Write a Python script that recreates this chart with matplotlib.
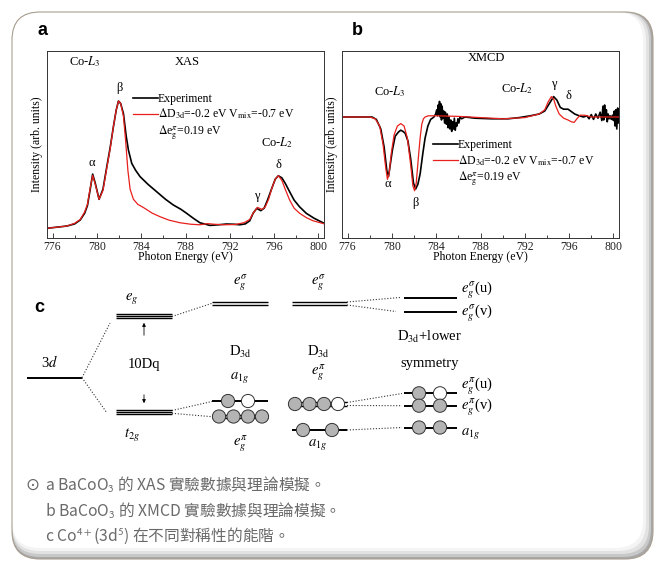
import numpy as np
import matplotlib
matplotlib.use('Agg')
import matplotlib.pyplot as plt
from matplotlib.patches import FancyBboxPatch, Circle
from matplotlib.ticker import MultipleLocator

plt.rcParams['font.family'] = ['Liberation Serif', 'DejaVu Serif']
plt.rcParams['mathtext.fontset'] = 'stix'

# panel a: XAS
xas_exp_e = [775.5, 776.5, 777.3, 778.0, 778.5, 778.9, 779.15, 779.4, 779.62, 779.85, 780.2, 780.55,
             780.9, 781.2, 781.5, 781.75, 781.95, 782.15, 782.4, 782.65, 782.85, 783.15, 783.5, 783.9,
             784.6, 785.4, 786.2, 786.9, 787.6, 788.1, 788.7, 789.3, 790.2, 791.0, 791.7, 792.4, 792.9,
             793.4, 793.8, 794.1, 794.43, 794.8, 795.1, 795.4, 795.8, 796.1, 796.38, 796.7, 797.0,
             797.4, 797.8, 798.3, 798.9, 799.6, 800.5]
xas_exp_i = [-0.01, 0.0, 0.008, 0.025, 0.056, 0.11, 0.17, 0.3, 0.42, 0.35, 0.22, 0.3,
             0.48, 0.63, 0.8, 0.93, 1.0, 0.98, 0.9, 0.72, 0.61, 0.505, 0.45, 0.40,
             0.34, 0.28, 0.22, 0.175, 0.14, 0.109, 0.07, 0.034, 0.013, 0.018, 0.024, 0.022, 0.018,
             0.025, 0.05, 0.109, 0.148, 0.13, 0.15, 0.214, 0.31, 0.38, 0.407, 0.39, 0.347,
             0.28, 0.214, 0.16, 0.109, 0.07, 0.03]
xas_th_e = [775.5, 776.5, 777.3, 778.0, 778.5, 778.9, 779.15, 779.4, 779.62, 779.85, 780.2, 780.55,
            780.9, 781.2, 781.5, 781.75, 781.95, 782.15, 782.4, 782.6, 782.8, 783.0, 783.3, 783.7,
            784.2, 785.0, 785.7, 786.5, 787.5, 788.5, 789.3, 790.0, 790.6, 791.5, 792.5, 793.3,
            793.8, 794.1, 794.5, 794.9, 795.2, 795.5, 795.8, 796.1, 796.38, 796.7, 797.0, 797.4,
            797.8, 798.3, 798.9, 799.5, 800.5]
xas_th_i = [-0.01, 0.0, 0.008, 0.03, 0.06, 0.12, 0.18, 0.31, 0.41, 0.34, 0.22, 0.29,
            0.47, 0.62, 0.8, 0.93, 1.0, 0.98, 0.88, 0.68, 0.45, 0.3, 0.22, 0.18,
            0.155, 0.11, 0.082, 0.055, 0.034, 0.022, 0.018, 0.027, 0.022, 0.018, 0.02, 0.035,
            0.06, 0.11, 0.156, 0.14, 0.16, 0.22, 0.31, 0.38, 0.407, 0.37, 0.3, 0.214,
            0.15, 0.109, 0.075, 0.05, 0.026]

# panel b: XMCD
xmcd_exp_e = [775.5, 777.0, 778.2, 778.6, 779.0, 779.3, 779.55, 779.7, 779.85, 780.05, 780.3, 780.6,
              780.8, 781.0, 781.2, 781.45, 781.7, 781.95, 782.15, 782.35, 782.55, 782.8, 783.0, 783.25,
              783.5, 783.8, 783.95, 784.05, 784.12, 784.18, 784.24, 784.3, 784.36, 784.42, 784.48,
              784.54, 784.6, 784.68, 784.76, 784.84, 784.92, 785.0, 785.08, 785.16, 785.24, 785.32,
              785.4, 785.48, 785.56, 785.64, 785.72, 785.8, 785.88, 785.96, 786.05, 786.15, 786.3,
              786.6, 787.5, 789.0, 790.5, 791.5, 792.5, 793.3, 793.8, 794.2, 794.6, 794.9, 795.2,
              795.5, 795.9, 796.2, 796.5, 796.9, 797.3, 797.6, 797.8, 798.0, 798.2, 798.4, 798.6,
              798.8, 798.95, 799.05, 799.12, 799.2, 799.28, 799.36, 799.44, 799.52, 799.6, 799.7,
              799.8, 799.9, 800.0, 800.08, 800.15, 800.22, 800.3, 800.38, 800.45, 800.5]
xmcd_exp_i = [0.0, 0.0, 0.0, -0.04, -0.2, -0.5, -0.9, -0.99, -0.8, -0.55, -0.32, -0.25,
              -0.22, -0.24, -0.27, -0.4, -0.7, -1.1, -1.2, -1.12, -0.95, -0.6, -0.35, -0.15,
              -0.04, 0.0, 0.05, 0.12, 0.02, 0.2, 0.05, 0.26, 0.0, 0.22, -0.05,
              0.18, -0.02, 0.1, -0.1, 0.08, -0.12, 0.05, -0.18, 0.0, -0.2, -0.05,
              -0.24, -0.08, -0.2, -0.02, -0.22, -0.1, -0.15, -0.03, -0.1, 0.0, -0.03,
              0.0, -0.02, -0.03, -0.03, -0.01, 0.02, 0.05, 0.1, 0.22, 0.34, 0.28, 0.16,
              0.13, 0.13, 0.09, 0.05, 0.02, 0.0, 0.02, -0.03, 0.04, -0.04, 0.05, -0.02,
              0.08, -0.06, 0.18, -0.05, 0.2, 0.0, 0.12, -0.08, 0.05, -0.03, 0.02,
              -0.04, 0.03, -0.06, 0.1, -0.15, 0.12, -0.2, 0.15, -0.1, 0.05]
xmcd_th_e = [775.5, 778.0, 778.5, 778.9, 779.2, 779.45, 779.6, 779.75, 779.95, 780.2, 780.5, 780.8,
             781.1, 781.4, 781.7, 781.9, 782.05, 782.2, 782.4, 782.55, 782.7, 782.85, 783.0, 783.3,
             784.0, 786.0, 788.0, 790.0, 792.0, 793.3, 793.8, 794.1, 794.4, 794.6, 794.8, 795.1,
             795.5, 795.9, 796.2, 796.45, 796.7, 797.0, 797.4, 798.0, 800.5]
xmcd_th_i = [0.0, 0.0, -0.03, -0.15, -0.45, -0.85, -1.04, -0.95, -0.6, -0.3, -0.15, -0.11,
             -0.15, -0.35, -0.8, -1.15, -1.23, -1.1, -0.66, -0.35, -0.12, -0.03, 0.0, 0.02,
             0.02, 0.01, -0.01, -0.03, -0.01, 0.05, 0.12, 0.25, 0.34, 0.3, 0.18, 0.05,
             -0.02, -0.05, -0.08, -0.09, -0.03, 0.03, 0.03, 0.0, 0.0]

# panel c: levels (x0, x1, y, number of lines) in pixel units
levels = [(27, 82, 377.7, 1), (116, 172, 316, 3), (116, 172, 412, 3),
          (212, 268, 303.5, 2), (212, 268, 401, 1), (212, 268, 416.5, 2),
          (292, 347, 303.5, 2), (292, 347, 404, 2), (292, 347, 430, 1),
          (404, 457, 298.3, 1), (404, 457, 312.3, 1), (404, 457, 393.3, 1),
          (404, 457, 405.7, 1), (404, 457, 427.5, 1)]
electrons = [(228, 401, 1), (248, 401, 0),
             (219, 416.5, 1), (233.5, 416.5, 1), (248, 416.5, 1), (262, 416.5, 1),
             (295, 404, 1), (309.5, 404, 1), (324, 404, 1), (338, 404, 0),
             (303, 430, 1), (332, 430, 1),
             (419, 393.3, 1), (440, 393.3, 0),
             (419, 405.7, 1), (440, 405.7, 1),
             (419, 427.5, 1), (440, 427.5, 1)]
links = [((82, 377.7), (110, 323)), ((82, 377.7), (107, 413)),
         ((172, 316.5), (212, 303.3)), ((172, 410.5), (212, 401.5)), ((172, 413.3), (212, 416.7)),
         ((347, 302), (400, 297.5)), ((347, 305), (396, 311.5)),
         ((347, 402.5), (402, 393.5)), ((347, 405.5), (402, 405.7)), ((347, 430), (402, 427.5))]
level_labels = [(50, 362, '3$d$', 'center'), (132, 298, '$e_g$', 'center'), (132, 434, '$t_{2g}$', 'center'),
                (144, 364, '10Dq', 'center'),
                (240, 283, r'$e_g^{\sigma}$', 'center'), (240, 352, r'D$_{\mathrm{3d}}$', 'center'),
                (240, 377, '$a_{1g}$', 'center'), (240, 444, r'$e_g^{\pi}$', 'center'),
                (318, 283, r'$e_g^{\sigma}$', 'center'), (318, 352, r'D$_{\mathrm{3d}}$', 'center'),
                (318, 373, r'$e_g^{\pi}$', 'center'), (318, 444, '$a_{1g}$', 'center'),
                (430, 337, r'D$_{\mathrm{3d}}$+lower', 'center'), (430, 363, 'symmetry', 'center'),
                (461, 290, r'$e_g^{\sigma}$(u)', 'left'), (461, 313, r'$e_g^{\sigma}$(v)', 'left'),
                (461, 386, r'$e_g^{\pi}$(u)', 'left'), (461, 407, r'$e_g^{\pi}$(v)', 'left'),
                (461, 433, '$a_{1g}$', 'left')]

captions = ['a BaCoO$_\\mathsf{3}$ 的 XAS 實驗數據與理論模擬。',
            'b BaCoO$_\\mathsf{3}$ 的 XMCD 實驗數據與理論模擬。',
            'c Co$^\\mathsf{4+}$(3d$^\\mathsf{5}$) 在不同對稱性的能階。']

fig = plt.figure(figsize=(6.6, 5.61), dpi=100)
bg = fig.add_axes([0, 0, 1, 1], zorder=0)
bg.set_xlim(0, 660)
bg.set_ylim(561, 0)
bg.axis('off')


def rbox(x0, y0, x1, y1, r=28, **kw):
    bg.add_patch(FancyBboxPatch((x0 + r, y0 + r), x1 - x0 - 2 * r, y1 - y0 - 2 * r,
                                boxstyle='round,pad=%g' % r, **kw))


# card with soft inner shadow on right/bottom
rbox(12, 12, 653, 559, fc='#a8a8a8', ec='none')
rbox(12, 12, 651, 557, fc='#c8c8c8', ec='none')
rbox(12, 12, 649, 554, fc='#e2e2e2', ec='none')
rbox(12, 12, 646, 551, fc='#f4f4f4', ec='none')
rbox(12, 12, 643, 548, fc='white', ec='none')
rbox(12, 12, 653, 559, fc='none', ec='#a89e90', lw=0.8)


def setup(ax):
    ax.set_xlim(775.5, 800.5)
    ax.xaxis.set_major_locator(MultipleLocator(4))
    ax.xaxis.set_minor_locator(MultipleLocator(2))
    ax.tick_params(which='both', direction='in', top=False, right=False, labelsize=8.5, pad=2,
                   width=0.6, colors='#222')
    ax.tick_params(which='major', length=3.5)
    ax.tick_params(which='minor', length=2)
    ax.set_yticks([])
    ax.set_xlabel('Photon Energy (eV)', fontsize=8.5, labelpad=-1)
    ax.set_ylabel('Intensity (arb. units)', fontsize=8.5, labelpad=3)
    for s in ax.spines.values():
        s.set_linewidth(0.7)
        s.set_color('#333')


ax_a = fig.add_axes([47 / 660, 1 - 238 / 561, 277 / 660, 187 / 561], zorder=2)
ax_a.plot(xas_exp_e, xas_exp_i, color='black', lw=1.2, label='Experiment')
ax_a.plot(xas_th_e, xas_th_i, color='#e8201c', lw=0.9,
          label=r'$\Delta$D$_{\mathrm{3d}}$=-0.2 eV V$_{\mathrm{mix}}$=-0.7 eV')
ax_a.plot([], [], color='none', label=r'$\Delta$e$_{\mathrm{g}}^{\pi}$=0.19 eV')
ax_a.set_ylim(-0.087, 1.397)
setup(ax_a)
for x, y, s in [(778.93, 1.31, 'Co-$L_3$'), (788.2, 1.31, 'XAS'), (782.0, 1.10, 'β'),
                (779.56, 0.51, 'α'), (794.45, 0.25, 'γ'), (796.35, 0.49, 'δ'),
                (796.26, 0.67, 'Co-$L_2$')]:
    ax_a.text(x, y, s, fontsize=9, ha='center', va='center')
ax_a.legend(loc='upper left', bbox_to_anchor=(0.31, 0.775), frameon=False, fontsize=8.5,
            handlelength=2.1, handletextpad=0.0, labelspacing=0.15, borderpad=0, borderaxespad=0)

ax_b = fig.add_axes([342 / 660, 1 - 238 / 561, 277 / 660, 187 / 561], zorder=2)
ax_b.plot(xmcd_exp_e, xmcd_exp_i, color='black', lw=1.2, label='Experiment')
ax_b.plot(xmcd_th_e, xmcd_th_i, color='#e8201c', lw=0.9,
          label=r'$\Delta$D$_{\mathrm{3d}}$=-0.2 eV V$_{\mathrm{mix}}$=-0.7 eV')
ax_b.plot([], [], color='none', label=r'$\Delta$e$_{\mathrm{g}}^{\pi}$=0.19 eV')
ax_b.set_ylim(-2.017, 1.1)
setup(ax_b)
for x, y, s in [(788.5, 0.98, 'XMCD'), (779.83, 0.43, 'Co-$L_3$'), (791.3, 0.47, 'Co-$L_2$'),
                (794.63, 0.55, 'γ'), (795.9, 0.35, 'δ'), (779.65, -1.12, 'α'),
                (782.1, -1.43, 'β')]:
    ax_b.text(x, y, s, fontsize=9, ha='center', va='center')
ax_b.legend(loc='upper left', bbox_to_anchor=(0.3285, 0.527), frameon=False, fontsize=8.5,
            handlelength=2.1, handletextpad=0.0, labelspacing=0.15, borderpad=0, borderaxespad=0)

# panel letters
for x, y, s in [(42, 30, 'a'), (357, 30, 'b'), (39, 307, 'c')]:
    bg.text(x, y, s, fontsize=13, fontweight='bold', family='Liberation Sans', ha='center', va='center')

# panel c: energy level diagram
for x0, x1, y, n in levels:
    offs = {1: [0], 2: [-1.6, 1.6], 3: [-2, 0, 2]}[n]
    for o in offs:
        bg.plot([x0, x1], [y + o, y + o], color='black', lw=1.4 if n == 1 else 1.0,
                solid_capstyle='butt')
for (x0, y0), (x1, y1) in links:
    bg.plot([x0, x1], [y0, y1], color='#333', lw=0.8, ls=(0, (1, 1.6)))
for x, y, f in electrons:
    bg.add_patch(Circle((x, y), 6.6, fc='#b4b4b4' if f else 'white', ec='#333', lw=0.7, zorder=3))
bg.annotate('', xy=(144, 320), xytext=(144, 338),
            arrowprops=dict(arrowstyle='-|>', lw=0.6, color='black', mutation_scale=5))
bg.annotate('', xy=(144, 406), xytext=(144, 392),
            arrowprops=dict(arrowstyle='-|>', lw=0.6, color='black', mutation_scale=5))
for x, y, s, ha in level_labels:
    bg.text(x, y, s, fontsize=10.5, ha=ha, va='center')

# caption
bg.text(32, 485, '⊙', fontsize=12, color='#666', ha='center', va='center', family='DejaVu Sans')
for k, s in enumerate(captions):
    bg.text(45, 485 + k * 25.5, s, fontsize=11.3, color='#6a6a6a', ha='left', va='center',
            family=['Noto Sans CJK TC', 'DejaVu Sans'])

fig.savefig('out.png', dpi=100)
